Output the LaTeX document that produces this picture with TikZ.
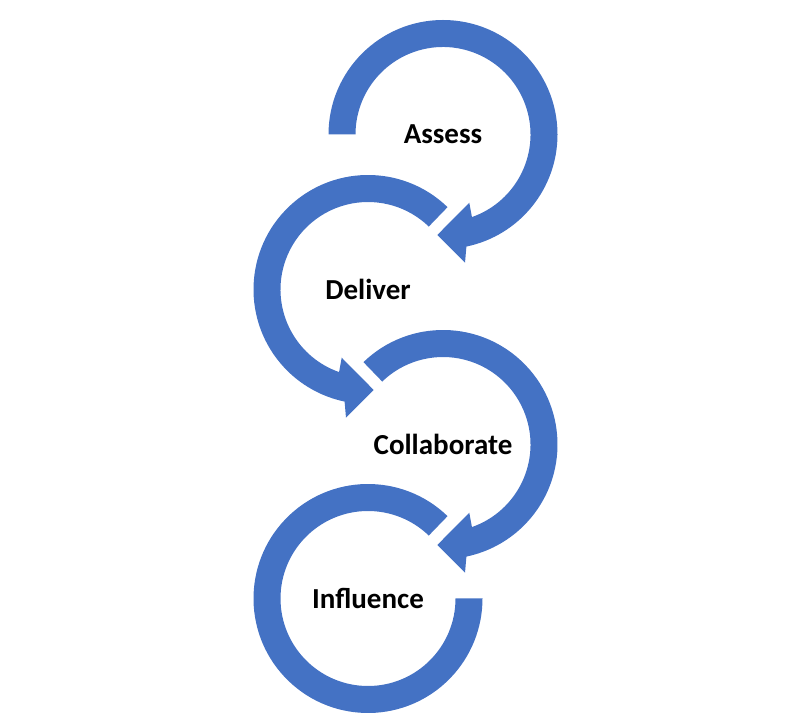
\documentclass[tikz,border=0pt]{standalone}
\usepackage{fontspec}
\setmainfont{Carlito}
\definecolor{arrowblue}{RGB}{68,114,196}
\begin{document}
\begin{tikzpicture}[x=1pt,y=1pt,
  ring/.style={fill=arrowblue, draw=none},
  steptext/.style={font=\fontsize{29}{35}\selectfont\bfseries, text=black, inner sep=0pt}]
\useasboundingbox (0,0) rectangle (811,715);
% Arc 1 : Assess (clockwise, starts at the left)
\begin{scope}[shift={(443,580.5)}]
  \fill[ring] (180:114.5) arc[start angle=180,end angle=-78.2,radius=114.5]
    -- (22,-128.2) -- (-5.7,-100.5) -- (26.3,-68.2) -- (-70.7:87.5)
    arc[start angle=-70.7,end angle=180,radius=87.5] -- cycle;
  \node[steptext] (assess) at (0,0) {Assess};
\end{scope}
% Arc 2 : Deliver (counter-clockwise)
\begin{scope}[shift={(368,425.5)}]
  \fill[ring] (46:114.5) arc[start angle=46,end angle=258.2,radius=114.5]
    -- (-22,-128.2) -- (5.7,-100.5) -- (-26.3,-68.2) -- (250.7:87.5)
    arc[start angle=250.7,end angle=46,radius=87.5] -- cycle;
  \node[steptext] (deliver) at (0,0) {Deliver};
\end{scope}
% Arc 3 : Collaborate (clockwise)
\begin{scope}[shift={(443,270.5)}]
  \fill[ring] (134:114.5) arc[start angle=134,end angle=-78.2,radius=114.5]
    -- (22,-128.2) -- (-5.7,-100.5) -- (26.3,-68.2) -- (-70.7:87.5)
    arc[start angle=-70.7,end angle=134,radius=87.5] -- cycle;
  \node[steptext] (collaborate) at (0,0) {Collaborate};
\end{scope}
% Arc 4 : Influence (counter-clockwise, no head)
\begin{scope}[shift={(368,116.5)}]
  \fill[ring] (46:114.5) arc[start angle=46,end angle=360,radius=114.5]
    -- (360:87.5)
    arc[start angle=360,end angle=46,radius=87.5] -- cycle;
  \node[steptext] (influence) at (0,0) {Influence};
\end{scope}
\end{tikzpicture}
\end{document}
